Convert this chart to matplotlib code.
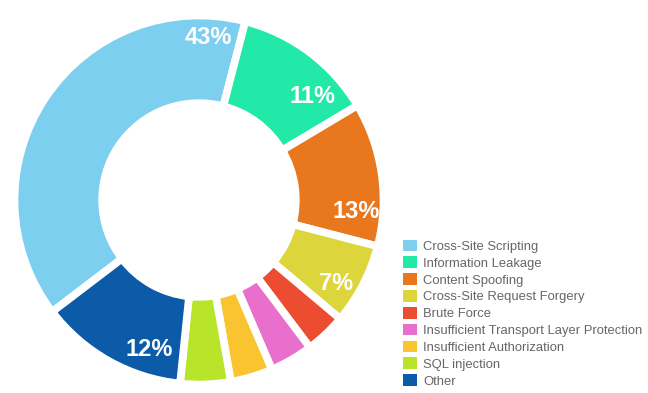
import numpy as np
import matplotlib
matplotlib.use("Agg")
import matplotlib.pyplot as plt
import matplotlib.patches as patches

categories = [
    "Cross-Site Scripting",
    "Information Leakage",
    "Content Spoofing",
    "Cross-Site Request Forgery",
    "Brute Force",
    "Insufficient Transport Layer Protection",
    "Insufficient Authorization",
    "SQL injection",
    "Other",
]
# slice sizes as drawn in the picture (share of the full circle)
shares = [39.4, 12.4, 12.6, 7.1, 3.6, 3.8, 3.7, 4.4, 13.0]
# printed labels
labels = ["43%", "11%", "13%", "7%", "", "", "", "", "12%"]
colors = ["#7dcff0", "#22e8a8", "#e8771e", "#dcd63c", "#ec4c30",
          "#e870cc", "#f9c430", "#b8e42a", "#0c5ba8"]

plt.rcParams["font.family"] = ["Liberation Sans", "DejaVu Sans"]

W, H = 648, 393
fig = plt.figure(figsize=(W / 100, H / 100), dpi=100)

# pie centre and radius in pixels
cx, cy, R = 199, 200, 184.5
ax = fig.add_axes([(cx - R) / W, (H - cy - R) / H, 2 * R / W, 2 * R / H])
wedges, _ = ax.pie(
    shares,
    colors=colors,
    startangle=217.3,
    counterclock=False,
    radius=1.0,
    wedgeprops=dict(width=0.475, edgecolor="white", linewidth=5.5),
)
ax.set_xlim(-1, 1)
ax.set_ylim(-1, 1)
ax.set_aspect("equal")
ax.axis("off")

# label position along each wedge (fraction of its clockwise sweep) and radius
label_frac = [0.92, 0.74, 0.77, 0.65, 0.5, 0.5, 0.5, 0.5, 0.27]
label_r = [0.884, 0.83, 0.854, 0.87, 0.8, 0.8, 0.8, 0.8, 0.857]
for w, lab, f, r in zip(wedges, labels, label_frac, label_r):
    if not lab:
        continue
    t1, t2 = w.theta1, w.theta2
    ang = np.deg2rad(t2 - f * (t2 - t1))
    ax.text(r * np.cos(ang), r * np.sin(ang), lab, ha="center", va="center",
            color="white", fontsize=17, fontweight="semibold")

handles = [patches.Patch(facecolor=c, edgecolor="none") for c in colors]
fig.legend(
    handles, categories,
    loc="upper left",
    bbox_to_anchor=(396 / W, 1 - 233 / H),
    frameon=False,
    fontsize=9.4,
    handlelength=1.1,
    handleheight=1.0,
    handletextpad=0.5,
    labelspacing=0.27,
    borderpad=0.0,
    labelcolor="#666666",
)

fig.savefig("out.png", dpi=100, facecolor="white")
